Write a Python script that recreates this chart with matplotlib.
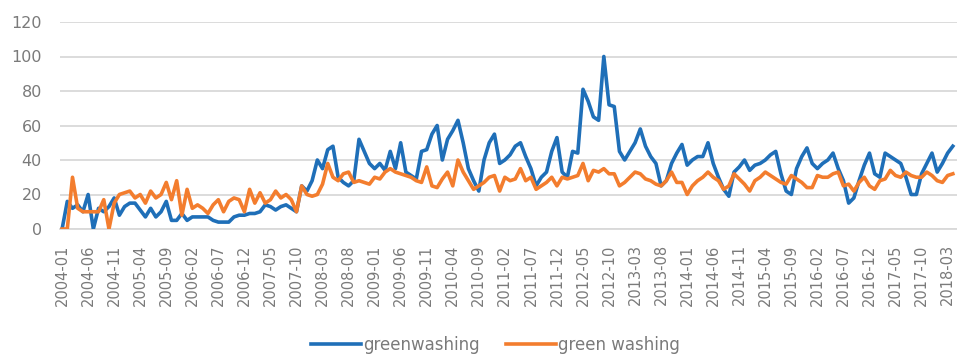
import matplotlib
matplotlib.use("Agg")
import matplotlib.pyplot as plt
import numpy as np

# ─── 数据：月度搜索热度 2004-01 起 ─────────────────────────────── #
start_year, start_month = 2004, 1

greenwashing = [
    0, 16, 12, 14, 10, 20, 0, 12, 10, 13,
    18, 8, 13, 15, 15, 11, 7, 12, 7, 10,
    16, 5, 5, 9, 5, 7, 7, 7, 7, 5,
    4, 4, 4, 7, 8, 8, 9, 9, 10, 14,
    13, 11, 13, 14, 12, 10, 25, 22, 28, 40,
    35, 46, 48, 30, 27, 25, 28, 52, 45, 38,
    35, 38, 34, 45, 35, 50, 33, 31, 29, 45,
    46, 55, 60, 40, 52, 57, 63, 50, 35, 28,
    22, 40, 50, 55, 38, 40, 43, 48, 50, 42,
    35, 25, 30, 33, 45, 53, 33, 30, 45, 44,
    81, 74, 65, 63, 100, 72, 71, 45, 40, 45,
    50, 58, 48, 42, 38, 25, 28, 38, 44, 49,
    37, 40, 42, 42, 50, 38, 30, 23, 19, 33,
    36, 40, 34, 37, 38, 40, 43, 45, 32, 22,
    20, 35, 42, 47, 38, 35, 38, 40, 44, 35,
    28, 15, 18, 28, 37, 44, 32, 30, 44, 42,
    40, 38, 30, 20, 20, 32, 38, 44, 33, 38,
    44, 48,
]

green_washing = [
    0, 0, 30, 12, 10, 10, 10, 10, 17, 0,
    15, 20, 21, 22, 18, 20, 15, 22, 18, 20,
    27, 17, 28, 8, 23, 12, 14, 12, 9, 14,
    17, 10, 16, 18, 17, 10, 23, 15, 21, 15,
    17, 22, 18, 20, 17, 10, 25, 20, 19, 20,
    26, 38, 30, 28, 32, 33, 27, 28, 27, 26,
    30, 29, 33, 35, 33, 32, 31, 30, 28, 27,
    36, 25, 24, 29, 33, 25, 40, 33, 28, 23,
    25, 27, 30, 31, 22, 30, 28, 29, 35, 28,
    30, 23, 25, 27, 30, 25, 30, 29, 30, 31,
    38, 28, 34, 33, 35, 32, 32, 25, 27, 30,
    33, 32, 29, 28, 26, 25, 28, 33, 27, 27,
    20, 25, 28, 30, 33, 30, 28, 23, 25, 32,
    29, 26, 22, 28, 30, 33, 31, 29, 27, 26,
    31, 29, 27, 24, 24, 31, 30, 30, 32, 33,
    25, 26, 22, 27, 30, 25, 23, 28, 29, 34,
    31, 30, 33, 31, 30, 30, 33, 31, 28, 27,
    31, 32,
]

y_ticks = [0, 20, 40, 60, 80, 100, 120]

n = len(greenwashing)
assert n == len(green_washing)
months = [f"{start_year + (start_month - 1 + k) // 12}-{(start_month - 1 + k) % 12 + 1:02d}"
          for k in range(n)]
label_step = 5

# ─── 绘图 ───────────────────────────────────────────────────────── #
fig = plt.figure(figsize=(9.57, 3.54), dpi=100)
ax = fig.add_axes([60 / 957, 1 - 229 / 354, 1 - 60 / 957, (229 - 22) / 354])

x = np.arange(n)
ax.plot(x, greenwashing, color="#1f6fb8", linewidth=2.6, label="greenwashing",
        solid_joinstyle="round", zorder=3)
ax.plot(x, green_washing, color="#f37d2e", linewidth=2.6, label="green washing",
        solid_joinstyle="round", zorder=4)

ax.set_ylim(0, 120)
ax.set_xlim(-0.4, n - 1 + 0.8)
ax.set_yticks(y_ticks)
ax.set_xticks(x[::label_step])
ax.set_xticklabels(months[::label_step], rotation=90)
ax.tick_params(axis="both", length=0, colors="#7a7a7a")
ax.tick_params(axis="x", pad=11, labelsize=10.5)
ax.tick_params(axis="y", pad=13, labelsize=11.5)
ax.grid(axis="y", color="#d9d9d9", linewidth=1.3)
ax.set_axisbelow(True)
for side in ["top", "right", "left"]:
    ax.spines[side].set_visible(False)
ax.spines["bottom"].set_color("#d9d9d9")
ax.spines["bottom"].set_linewidth(1.3)

fig.legend(loc="center", bbox_to_anchor=(0.518, 0.025), ncol=2, frameon=False,
           fontsize=12, handlelength=3.0, handletextpad=0.1, columnspacing=1.6,
           labelcolor="#7a7a7a")

fig.savefig("out.png", dpi=100)
